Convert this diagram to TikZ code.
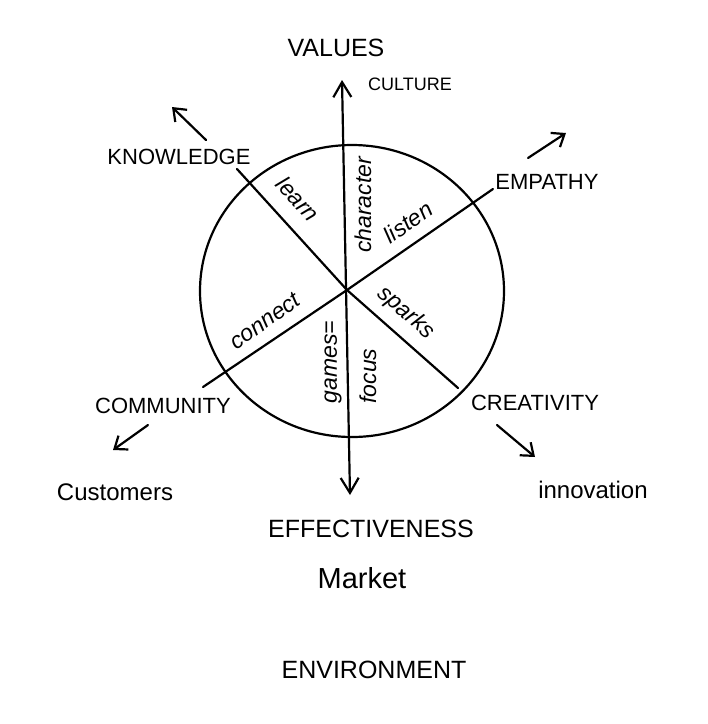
\documentclass[tikz,border=0pt]{standalone}
\usepackage{fontspec}
\setmainfont{Liberation Sans}
\usetikzlibrary{arrows.meta}
\begin{document}
\begin{tikzpicture}[x=1pt, y=-1pt,
          pen/.style={line width=2.2pt, line cap=round},
          axisline/.style={pen, {Straight Barb[length=15pt,width=18pt]}-{Straight Barb[length=15pt,width=18pt]}},
          hint/.style={pen, -{Straight Barb[length=11pt,width=17pt]}},
          capword/.style={font=\fontsize{22}{24}\selectfont, inner sep=1pt},
          bigcap/.style={font=\fontsize{25}{28}\selectfont, inner sep=1pt},
          word/.style={font=\fontsize{24}{26}\selectfont, inner sep=1pt},
          hand/.style={font=\itshape\fontsize{23}{25}\selectfont, inner sep=1pt}]
        \useasboundingbox (0,0) rectangle (708,724);
        \coordinate (hub) at (347,290);
        \coordinate (rim) at (352,291);
        \coordinate (axtop) at (342,80);
        \coordinate (axbot) at (350,495);
        \coordinate (kn) at (237,169);
        \coordinate (cr) at (458,388);
        \coordinate (em) at (493,189);
        \coordinate (co) at (203,387);
        \draw[pen] (rim) ellipse [x radius=152pt, y radius=146pt];
        \draw[axisline] (axbot) -- (axtop);
        \draw[pen] (kn) -- (hub) -- (cr);
        \draw[pen] (em) -- (hub) -- (co);
        \node[bigcap] (values) at (336,48) {VALUES};
        \node[word, font=\fontsize{18}{20}\selectfont] (culture) at (410,84) {CULTURE};
        \node[capword] (knowledge) at (179,157) {KNOWLEDGE};
        \node[capword] (empathy) at (547,182) {EMPATHY};
        \node[capword] (community) at (163,406) {COMMUNITY};
        \node[capword] (creativity) at (535,403) {CREATIVITY};
        \node[word] (customers) at (115,492) {Customers};
        \node[word] (innovation) at (593,490) {innovation};
        \node[bigcap] (effect) at (371,529) {EFFECTIVENESS};
        \node[word, font=\fontsize{29}{31}\selectfont] (market) at (362,578) {Market};
        \node[bigcap] (environ) at (374,670) {ENVIRONMENT};
        \node[hand, rotate=-48] (learn) at (298,199) {learn};
        \node[hand, rotate=90] (character) at (363,205) {character};
        \node[hand, rotate=35] (listen) at (408,222) {listen};
        \node[hand, rotate=35] (connect) at (265,321) {connect};
        \node[hand, rotate=-41] (sparks) at (406,313) {sparks};
        \node[hand, rotate=90] (games) at (333,362) {games=};
        \node[hand, rotate=90] (focus) at (368,376) {focus};
        \coordinate (knA) at (206,140); \coordinate (knB) at (172,107);
        \coordinate (emA) at (528,158); \coordinate (emB) at (566,133);
        \coordinate (coA) at (148,425); \coordinate (coB) at (113,450);
        \coordinate (crA) at (497,425); \coordinate (crB) at (535,457);
        \draw[hint] (knA) -- (knB);
        \draw[hint] (emA) -- (emB);
        \draw[hint] (coA) -- (coB);
        \draw[hint] (crA) -- (crB);
      \end{tikzpicture}
\end{document}
